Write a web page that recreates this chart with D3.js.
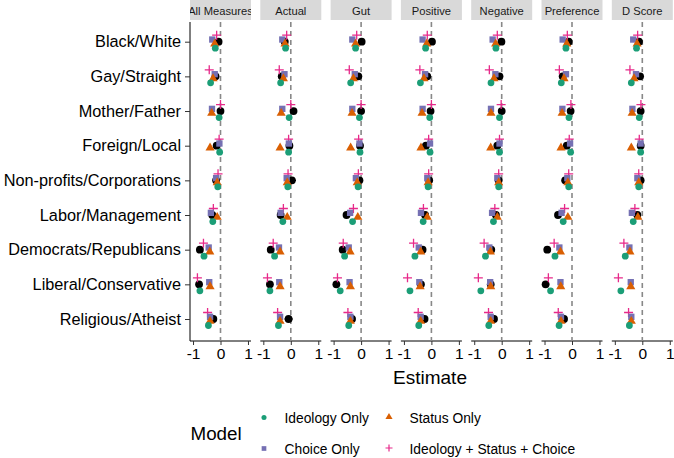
<!DOCTYPE html>
<html><head><meta charset="utf-8">
<script src="https://cdn.jsdelivr.net/npm/d3@7"></script>
<style>body{margin:0;background:#fff}svg{display:block}text{font-family:"Liberation Sans",Arial,sans-serif}</style>
</head><body><svg id="c" width="674" height="458"></svg>
<script>
const categories = ["Black/White","Gay/Straight","Mother/Father","Foreign/Local","Non-profits/Corporations","Labor/Management","Democrats/Republicans","Liberal/Conservative","Religious/Atheist"];
const panels = ["All Measures","Actual","Gut","Positive","Negative","Preference","D Score"];
const xTicks = [-1,0,1];
const models = ["Ideology + Status + Choice","Choice Only","Status Only","Ideology Only"];
const legendOrder = ["Ideology Only","Status Only","Choice Only","Ideology + Status + Choice"];
// values[panel][category]
const ideologyStatusChoice = [
 [-0.14,-0.41,0.00,-0.05,-0.09,-0.26,-0.62,-0.84,-0.47],
 [-0.15,-0.42,0.00,-0.08,-0.10,-0.27,-0.64,-0.85,-0.48],
 [-0.16,-0.43,0.00,-0.09,-0.10,-0.28,-0.65,-0.86,-0.48],
 [-0.15,-0.42,0.00,-0.10,-0.10,-0.29,-0.65,-0.87,-0.48],
 [-0.16,-0.45,-0.02,-0.08,-0.11,-0.25,-0.64,-0.85,-0.48],
 [-0.17,-0.46,-0.04,-0.10,-0.12,-0.27,-0.65,-0.86,-0.50],
 [-0.17,-0.45,-0.05,-0.11,-0.13,-0.27,-0.67,-0.87,-0.50]];
const choiceOnly = [
 [-0.30,-0.21,-0.31,-0.04,-0.16,-0.35,-0.43,-0.41,-0.38],
 [-0.31,-0.23,-0.31,-0.07,-0.15,-0.37,-0.43,-0.42,-0.39],
 [-0.32,-0.23,-0.32,-0.06,-0.19,-0.40,-0.45,-0.42,-0.39],
 [-0.32,-0.23,-0.32,-0.05,-0.15,-0.38,-0.46,-0.44,-0.39],
 [-0.33,-0.23,-0.39,-0.08,-0.16,-0.35,-0.45,-0.42,-0.40],
 [-0.34,-0.22,-0.35,-0.07,-0.17,-0.38,-0.46,-0.42,-0.40],
 [-0.33,-0.23,-0.36,-0.06,-0.18,-0.38,-0.47,-0.42,-0.40]];
const statusOnly = [
 [-0.21,-0.27,-0.32,-0.38,-0.12,-0.12,-0.39,-0.38,-0.38],
 [-0.21,-0.27,-0.35,-0.39,-0.13,-0.13,-0.39,-0.39,-0.39],
 [-0.20,-0.28,-0.33,-0.38,-0.14,-0.12,-0.40,-0.39,-0.39],
 [-0.17,-0.27,-0.34,-0.38,-0.12,-0.15,-0.39,-0.41,-0.39],
 [-0.22,-0.28,-0.39,-0.40,-0.11,-0.16,-0.41,-0.40,-0.40],
 [-0.19,-0.29,-0.36,-0.40,-0.15,-0.15,-0.42,-0.41,-0.40],
 [-0.19,-0.30,-0.37,-0.40,-0.13,-0.16,-0.45,-0.42,-0.40]];
const ideologyOnly = [
 [-0.19,-0.36,-0.05,-0.03,-0.10,-0.28,-0.60,-0.75,-0.44],
 [-0.19,-0.37,-0.06,-0.08,-0.11,-0.29,-0.59,-0.76,-0.45],
 [-0.20,-0.38,-0.06,-0.04,-0.11,-0.31,-0.60,-0.76,-0.45],
 [-0.21,-0.40,-0.06,-0.05,-0.12,-0.30,-0.60,-0.78,-0.46],
 [-0.21,-0.39,-0.08,-0.08,-0.11,-0.30,-0.59,-0.76,-0.47],
 [-0.22,-0.39,-0.11,-0.05,-0.12,-0.32,-0.62,-0.78,-0.47],
 [-0.21,-0.40,-0.11,-0.06,-0.13,-0.33,-0.62,-0.78,-0.47]];
// black reference points (null = not shown) and their error half-widths
const rawEstimate = [
 [-0.07,-0.18,0.00,-0.14,-0.16,-0.30,-0.75,-0.78,-0.26],
 [-0.22,-0.33,0.10,-0.05,0.04,-0.37,-0.73,-0.76,-0.08],
 [0.02,-0.10,0.00,-0.04,-0.06,-0.53,-0.67,-0.90,-0.33],
 [0.02,-0.15,-0.03,-0.20,-0.08,-0.23,-0.32,-0.38,-0.25],
 [-0.01,-0.08,0.00,-0.16,-0.11,-0.21,-0.38,-0.40,-0.28],
 [-0.12,-0.34,-0.05,-0.19,-0.25,-0.51,-0.90,-0.96,-0.29],
 [-0.12,-0.08,-0.06,-0.06,-0.06,-0.18,null,null,null]];
const rawError = [
 [0.03,0.06,0.03,0.03,0.03,0.04,0.04,0.04,0.04],
 [0.03,0.04,0.05,0.04,0.15,0.04,0.05,0.04,0.15],
 [0.03,0.07,0.03,0.09,0.09,0.06,0.11,0.04,0.10],
 [0.03,0.05,0.03,0.04,0.04,0.04,0.04,0.04,0.04],
 [0.03,0.06,0.03,0.04,0.04,0.04,0.04,0.04,0.07],
 [0.03,0.04,0.03,0.04,0.04,0.04,0.04,0.04,0.04],
 [0.03,0.04,0.03,0.04,0.04,0.04,0,0,0]];

const colors = {"Ideology Only":"#1B9E77","Status Only":"#D95F02","Choice Only":"#7570B3","Ideology + Status + Choice":"#E7298A"};
const seriesData = {"Ideology + Status + Choice":ideologyStatusChoice,"Choice Only":choiceOnly,"Status Only":statusOnly,"Ideology Only":ideologyOnly};

const svg = d3.select("#c");
const panelW = 61, panelGap = 9.3, left0 = 190, topY = 22, bottomY = 341;
const y = d3.scalePoint().domain(categories).range([41.7, 319]);
const dodge = d3.scalePoint().domain(models).range([-6.5, 6.5]);
const ff = "'Liberation Sans',Arial,sans-serif";

// y axis
const yAxis = svg.append("g").attr("transform", `translate(${left0},0)`)
  .call(d3.axisLeft(y).tickSize(5).tickPadding(4));
yAxis.select(".domain").attr("d", `M0,${topY}V${bottomY}`).attr("stroke","#000").attr("stroke-width",1);
yAxis.selectAll("text").attr("font-size",16.3).attr("fill","#000").style("font-family",ff);
yAxis.selectAll(".tick line").attr("stroke","#333");

function symbolFor(m){
  if(m==="Ideology Only") return d3.symbol(d3.symbolCircle, 36)();
  if(m==="Choice Only") return d3.symbol(d3.symbolSquare, 40)();
  if(m==="Status Only") return d3.symbol(d3.symbolTriangle, 36)();
  return null;
}

const defs = svg.append("defs");
panels.forEach((pn, pi) => {
  const x0 = left0 + pi*(panelW+panelGap);
  const x = d3.scaleLinear().domain([-1.11, 1.11]).range([x0, x0+panelW]);
  const g = svg.append("g");
  // strip
  defs.append("clipPath").attr("id", "strip"+pi).append("rect").attr("x", x0).attr("y", 0).attr("width", panelW).attr("height", 20);
  g.append("rect").attr("x", x0).attr("y", 0).attr("width", panelW).attr("height", 20).attr("fill","#d9d9d9");
  g.append("text").attr("clip-path", `url(#strip${pi})`).attr("x", x0+panelW/2).attr("y", 14.5).attr("text-anchor","middle").attr("font-size",11.2).attr("fill","#1a1a1a").text(pn);
  // x axis
  const xa = g.append("g").attr("transform", `translate(0,${bottomY})`).call(d3.axisBottom(x).tickValues(xTicks).tickFormat(d3.format("d")).tickSize(4).tickPadding(3));
  xa.select(".domain").attr("d", `M${x0},0H${x0+panelW}`).attr("stroke","#000");
  xa.selectAll(".tick line").attr("stroke","#333");
  xa.selectAll("text").attr("font-size",15.5).attr("fill","#000").style("font-family",ff).text(d=>d<0?"-"+Math.abs(d):d);
  // zero line
  g.append("line").attr("x1", x(0)).attr("x2", x(0)).attr("y1", topY).attr("y2", bottomY)
    .attr("stroke","#888").attr("stroke-width",1.6).attr("stroke-dasharray","5,4");
  // black points with error bars
  categories.forEach((c, ci) => {
    const v = rawEstimate[pi][ci];
    if (v === null) return;
    const e = rawError[pi][ci];
    g.append("line").attr("x1", x(v-e)).attr("x2", x(v+e)).attr("y1", y(c)).attr("y2", y(c)).attr("stroke","#000").attr("stroke-width",1.3);
    g.append("circle").attr("cx", x(v)).attr("cy", y(c)).attr("r", 3.9).attr("fill","#000");
  });
  // model points
  models.forEach(m => {
    categories.forEach((c, ci) => {
      const v = seriesData[m][pi][ci];
      const cx = x(v), cy = y(c) + dodge(m);
      if (m === "Ideology + Status + Choice") {
        g.append("path").attr("d", `M${cx-4.5},${cy}H${cx+4.5}M${cx},${cy-4.5}V${cy+4.5}`).attr("stroke", colors[m]).attr("stroke-width",1.3).attr("fill","none");
      } else {
        g.append("path").attr("d", symbolFor(m)).attr("transform", `translate(${cx},${cy})`).attr("fill", colors[m]);
      }
    });
  });
});

// x title
svg.append("text").attr("x", 430).attr("y", 384).attr("text-anchor","middle").attr("font-size",19).attr("fill","#000").text("Estimate");

// legend
svg.append("text").attr("x", 190.5).attr("y", 440).attr("font-size",18.8).attr("fill","#000").text("Model");
const legPos = [[264,417.5],[389,417],[264,448.5],[389,448]];
legendOrder.forEach((m, i) => {
  const [lx, ly] = legPos[i];
  if (m === "Ideology + Status + Choice") {
    svg.append("path").attr("d", `M${lx-3.5},${ly}H${lx+3.5}M${lx},${ly-3.5}V${ly+3.5}`).attr("stroke", colors[m]).attr("stroke-width",1.2);
  } else {
    const sz = m==="Ideology Only"?20:22;
    const t = m==="Ideology Only"?d3.symbolCircle:(m==="Choice Only"?d3.symbolSquare:d3.symbolTriangle);
    svg.append("path").attr("d", d3.symbol(t, sz)()).attr("transform", `translate(${lx},${ly})`).attr("fill", colors[m]);
  }
  svg.append("text").attr("x", lx+20.5).attr("y", ly+5.5).attr("font-size",13.8).attr("fill","#000").text(m);
});
</script></body></html>
